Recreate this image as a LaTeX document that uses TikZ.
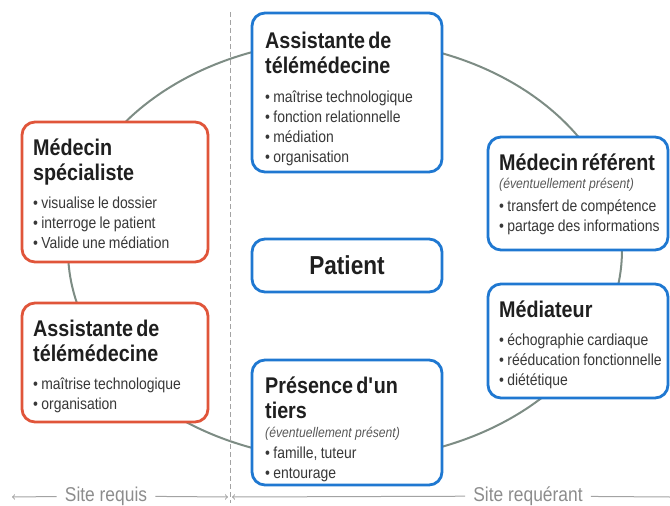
\documentclass[tikz,border=0pt]{standalone}
\usepackage{fontspec}
\setmainfont{Liberation Sans}[FakeStretch=0.87]
\usepackage{xcolor}
\usepackage{tikz}
\usetikzlibrary{calc}
\definecolor{boxred}{HTML}{E0553A}
\definecolor{boxblue}{HTML}{1F78D1}
\definecolor{ringgray}{HTML}{7D8C84}
\definecolor{sitegray}{HTML}{8C8C8C}
\newcommand{\ttl}{\fontsize{22.7}{25}\selectfont\bfseries\color{black!88}}
\newcommand{\itm}{\fontsize{16}{20}\selectfont\color{black!78}}
\newcommand{\evt}{\fontsize{14}{18}\selectfont\itshape\color{black!65}}

\begin{document}
\begin{tikzpicture}[x=1pt,y=-1pt,
  redbox/.style={draw=boxred,line width=2.8pt,rounded corners=13pt,fill=white},
  bluebox/.style={draw=boxblue,line width=2.8pt,rounded corners=13pt,fill=white},
  txt/.style={anchor=north west,align=left,text width=178pt,inner sep=0pt},
  site/.style={inner xsep=8pt,text=sitegray,font=\fontsize{20}{20}\selectfont}]
  \useasboundingbox (0,0) rectangle (670,506);
  % ring and separation
  \draw[ringgray,line width=2pt] (345,250) ellipse [x radius=277, y radius=210];
  \draw[sitegray!80,dash pattern=on 5pt off 3pt] (230,12) -- (230,503);
  % site requis
  \node[redbox,minimum width=186,minimum height=140] (spec) at (115,192) {};
  \node[txt] (specText) at (33,139) {{\ttl Médecin\\spécialiste\par}\vspace{8pt}
    {\itm • visualise le dossier\\• interroge le patient\\• Valide une médiation\par}};
  \node[redbox,minimum width=186,minimum height=119] (assisB) at (115,362.5) {};
  \node[txt] (assisBText) at (33,320) {{\ttl Assistante de\\télémédecine\par}\vspace{8pt}
    {\itm • maîtrise technologique\\• organisation\par}};
  % site requerant
  \node[bluebox,minimum width=190,minimum height=159] (assisT) at (347,92.5) {};
  \node[txt] (assisTText) at (265,32) {{\ttl Assistante de\\télémédecine\par}\vspace{9pt}
    {\itm • maîtrise technologique\\• fonction relationnelle\\• médiation\\• organisation\par}};
  \node[bluebox,minimum width=190,minimum height=53] (patient) at (347,265.5)
    {\fontsize{26}{26}\selectfont\bfseries\color{black!88}Patient};
  \node[bluebox,minimum width=180,minimum height=113] (refe) at (578,193.5) {};
  \node[txt] (refeText) at (499,154) {{\ttl Médecin référent\par}
    {\evt (éventuellement présent)\par}\vspace{3pt}
    {\itm • transfert de compétence\\• partage des informations\par}};
  \node[bluebox,minimum width=180,minimum height=114] (medi) at (578,341) {};
  \node[txt] (mediText) at (499,301) {{\ttl Médiateur\par}\vspace{8pt}
    {\itm • échographie cardiaque\\• rééducation fonctionnelle\\• diététique\par}};
  \node[bluebox,minimum width=190,minimum height=125] (pres) at (347,422.5) {};
  \node[txt] (presText) at (265,377) {{\ttl Présence d\textquotesingle un\\tiers\par}\vspace{1pt}
    {\evt (éventuellement présent)\par}\vspace{1pt}
    {\itm • famille, tuteur\\• entourage\par}};
  % bottom arrows
  \node[site] (requis) at (106,496) {Site requis};
  \node[site] (requerant) at (528,496) {Site requérant};
  \coordinate (leftEnd) at (12,497);
  \coordinate (midL) at (228,497);
  \coordinate (midR) at (232,497);
  \coordinate (rightEnd) at (670,497);
  \draw[sitegray!80,line width=1pt,<-] (leftEnd) -- (requis);
  \draw[sitegray!80,line width=1pt,->] (requis) -- (midL);
  \draw[sitegray!80,line width=1pt,<-] (midR) -- (requerant);
  \draw[sitegray!80,line width=1pt] (requerant) -- (rightEnd);
\end{tikzpicture}
\end{document}
